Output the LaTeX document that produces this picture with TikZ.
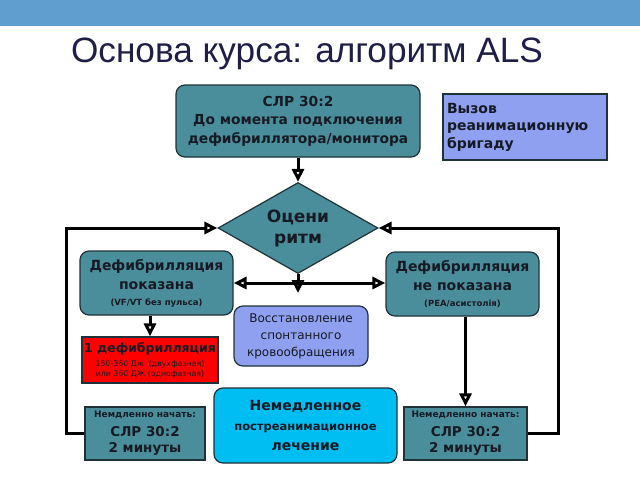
\documentclass[tikz,border=0pt]{standalone}
\usepackage{fontspec}
\setmainfont{Liberation Sans}
\newfontfamily\dv{DejaVu Sans}
\usetikzlibrary{arrows.meta,shapes.geometric}
\definecolor{band}{RGB}{96,158,208}
\definecolor{titlec}{RGB}{30,30,70}
\definecolor{tealc}{RGB}{75,142,155}
\definecolor{bord}{RGB}{30,50,56}
\definecolor{peri}{RGB}{143,160,240}
\definecolor{cyanc}{RGB}{0,190,242}
\definecolor{redc}{RGB}{255,0,0}
\definecolor{txt}{RGB}{22,26,36}
\tikzset{
  box/.style={draw=bord, line width=1.2pt, text=txt, align=center, inner sep=0pt},
  rbox/.style={box, rounded corners=9pt},
  tealbox/.style={box, fill=tealc},
  arr/.style={line width=3pt, black, -{Triangle[fill=white,length=13pt,width=12pt,line width=3pt]}},
}
\newcommand{\fs}[2]{\fontsize{#1}{#2}\selectfont}
\begin{document}
\begin{tikzpicture}[x=1pt,y=-1pt]
\useasboundingbox (0,0) rectangle (640,480);
\fill[band] (0,0) rectangle (640,26);
\node[text=titlec, font=\fs{35.2}{40}, inner sep=0pt] (title) at (307,54) {Основа курса: алгоритм ALS};

\node[tealbox, rbox, minimum width=244pt, minimum height=72pt, font=\dv\bfseries\fs{13.8}{18.5}] (top) at (298,121)
  {СЛР 30:2\\До момента подключения\\дефибриллятора/монитора};
\node[box, fill=peri, minimum width=164pt, minimum height=66pt, text width=156pt, align=left, font=\dv\bfseries\fs{14}{17.5}] (call) at (525,127)
  {Вызов\\реанимационную\\бригаду};

\node[box, fill=tealc, diamond, aspect=1.76, minimum width=160pt, minimum height=91pt, font=\dv\bfseries\fs{17}{21}] (dia) at (298,228)
  {Оцени\\ритм};

\node[tealbox, rbox, minimum width=153pt, minimum height=64pt, font=\dv\bfseries\fs{14}{19}] (lb) at (156.5,283)
  {Дефибрилляция\\показана\\[-3pt]{\fs{8.5}{11}(VF/VT без пульса)}};
\node[tealbox, rbox, minimum width=153pt, minimum height=64pt, font=\dv\bfseries\fs{14}{19}] (rb) at (462.5,284)
  {Дефибрилляция\\не показана\\[-3pt]{\fs{8.5}{11}(PEA/асистолія)}};

\node[box, fill=redc, minimum width=136pt, minimum height=46pt, font=\dv\bfseries\fs{12.5}{14}] (red) at (150,360)
  {1 дефибрилляция\\{\mdseries\fs{7.8}{10}150-360 Дж \ (двухфазная)}\\[-4pt]{\mdseries\fs{7.8}{10}или 360 ДЖ (однофазная)}};

\node[box, rbox, fill=peri, minimum width=134pt, minimum height=60pt, font=\dv\fs{12}{17}] (rosc) at (301,336)
  {Восстановление\\спонтанного\\кровообращения};

\node[tealbox, minimum width=120pt, minimum height=53pt, font=\dv\bfseries\fs{13.5}{16.5}] (bl) at (145,433.5)
  {{\fs{9}{12}Немдленно начать:}\\[2pt]СЛР 30:2\\2 минуты};
\node[box, rbox, fill=cyanc, minimum width=183pt, minimum height=75pt, font=\dv\bfseries\fs{14}{20}] (post) at (305.5,425.5)
  {Немедленное\\{\fs{11.5}{20}постреанимационное}\\лечение};
\node[tealbox, minimum width=123pt, minimum height=53pt, font=\dv\bfseries\fs{13.5}{16.5}] (br) at (465.5,433.5)
  {{\fs{9}{12}Немедленно начать:}\\[2pt]СЛР 30:2\\2 минуты};

\coordinate (j) at (298,283);
\coordinate (jd) at (298,293);

\draw[arr] (top.south) -- (dia.north);
\draw[arr] (dia.south) -- (jd);
\draw[arr] (j) -- (lb.east |- j);
\draw[arr] (j) -- (rb.west |- j);
\draw[arr] (red.north |- lb.south) -- (red.north);
\draw[arr] (rb.south -| br.north) -- (br.north);
\draw[arr] (bl.west) -- ++(-18,0) |- (dia.west);
\draw[arr] (br.east) -- ++(31,0) |- (dia.east);
\end{tikzpicture}
\end{document}
